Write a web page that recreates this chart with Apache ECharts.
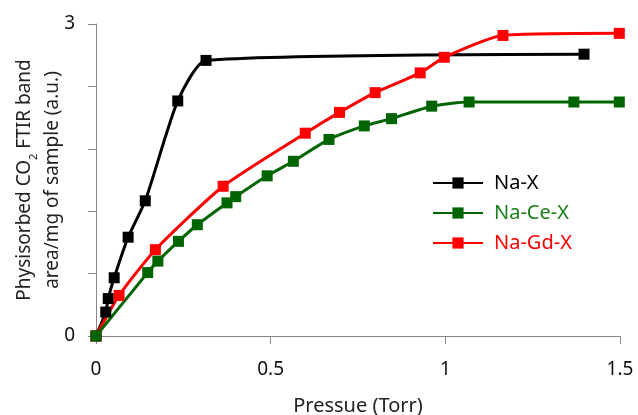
<!DOCTYPE html>
<html>
<head>
<meta charset="utf-8">
<script src="https://cdn.jsdelivr.net/npm/echarts@6/dist/echarts.min.js"></script>
<style>
  html, body { margin: 0; padding: 0; background: #fff; }
  #chart { width: 638px; height: 415px; }
</style>
</head>
<body>
<div id="chart"></div>
<script>
// values
const naX_x = [0, 0.028, 0.035, 0.052, 0.092, 0.141, 0.234, 0.315, 1.397]
const naX_y = [0, 0.23, 0.36, 0.56, 0.95, 1.3, 2.26, 2.65, 2.71]

const naCeX_x = [0, 0.148, 0.177, 0.236, 0.29, 0.375, 0.4, 0.49, 0.565, 0.667, 0.768, 0.846, 0.961, 1.068, 1.368, 1.498]
const naCeX_y = [0, 0.61, 0.72, 0.91, 1.07, 1.28, 1.34, 1.54, 1.68, 1.89, 2.02, 2.09, 2.21, 2.25, 2.25, 2.25]

const naGdX_x = [0, 0.066, 0.17, 0.364, 0.599, 0.697, 0.799, 0.928, 0.997, 1.165, 1.498]
const naGdX_y = [0, 0.39, 0.83, 1.44, 1.95, 2.15, 2.34, 2.53, 2.68, 2.89, 2.91]

const yLabels = [0, 3]

const FONT = "Noto Sans"
const GREEN = "#006400"

const pairs = (xs, ys) => xs.map((x, i) => [x, ys[i]])

const chart = echarts.init(document.getElementById("chart"))

const makeSeries = (name, xs, ys, color) => ({
  name: name,
  type: "line",
  data: pairs(xs, ys),
  smooth: 0.2,
  symbol: "rect",
  symbolSize: 11,
  showAllSymbol: true,
  lineStyle: { width: 3, color: color },
  itemStyle: { color: color },
  emphasis: { disabled: true },
})

chart.setOption({
  animation: false,
  textStyle: { fontFamily: FONT },
  grid: { left: 96, right: 18, top: 24, bottom: 79, outerBoundsMode: "none", containLabel: false },
  legend: {
    orient: "vertical",
    left: 427,
    top: 168,
    itemWidth: 50,
    itemHeight: 14,
    itemGap: 10,
    textStyle: { fontSize: 20, fontFamily: FONT, padding: [0, 0, 0, 6] },
    data: [
      { name: "Na-X", textStyle: { color: "#000" } },
      { name: "Na-Ce-X", textStyle: { color: "#1a801a" } },
      { name: "Na-Gd-X", textStyle: { color: "#ff0000" } },
    ],
  },
  xAxis: {
    type: "value",
    min: 0,
    max: 1.5,
    interval: 0.5,
    name: "Pressue (Torr)",
    nameLocation: "middle",
    nameGap: 60,
    nameMoveOverlap: false,
    nameTextStyle: { fontSize: 20, color: "#222", fontFamily: FONT },
    axisLine: { lineStyle: { color: "#888", width: 1 } },
    axisTick: { show: true, length: 8, lineStyle: { color: "#888" } },
    axisLabel: { fontSize: 19, color: "#111", margin: 24, fontFamily: FONT },
    splitLine: { show: false },
  },
  yAxis: {
    type: "value",
    min: 0,
    max: 3,
    interval: 0.6,
    name: "Physisorbed CO{sub|2} FTIR band\narea/mg of sample (a.u.)",
    nameLocation: "middle",
    nameRotate: 90,
    nameGap: 29,
    nameMoveOverlap: false,
    nameTextStyle: {
      fontSize: 19,
      color: "#222",
      fontFamily: FONT,
      lineHeight: 28,
      rich: { sub: { fontSize: 11, verticalAlign: "bottom", padding: [9, 0, 0, 0], fontFamily: FONT, color: "#222" } },
    },
    axisLine: { show: true, lineStyle: { color: "#888", width: 1 } },
    axisTick: { show: true, length: 8, lineStyle: { color: "#888" } },
    axisLabel: {
      fontSize: 19,
      color: "#111",
      margin: 21,
      fontFamily: FONT,
      formatter: (v) => (yLabels.some((t) => Math.abs(t - v) < 1e-6) ? String(Math.round(v)) : ""),
    },
    splitLine: { show: false },
  },
  series: [
    makeSeries("Na-X", naX_x, naX_y, "#000000"),
    makeSeries("Na-Gd-X", naGdX_x, naGdX_y, "#ff0000"),
    makeSeries("Na-Ce-X", naCeX_x, naCeX_y, GREEN),
  ],
})
</script>
</body>
</html>
